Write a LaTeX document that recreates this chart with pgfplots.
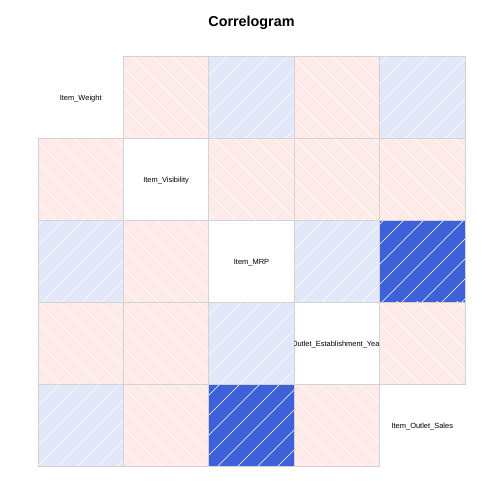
\documentclass[border=0pt]{standalone}
\usepackage{pgfplots}
\pgfplotsset{compat=1.18}
\usepackage{fontspec}
\setmainfont{Liberation Sans}
\usetikzlibrary{patterns.meta}
% colours of corrgram's palette (14 steps, red-salmon-white-royalblue-navy)
\definecolor{negs}{RGB}{254,235,233}   % -0.143 < r <= 0
\definecolor{poss}{RGB}{226,232,250}   % 0 < r <= 0.143
\definecolor{posb}{RGB}{60,97,217}     % 0.429 < r <= 0.571
\definecolor{lgray}{RGB}{211,211,211}
\tikzset{
  negcell/.style={preaction={fill=#1}, pattern={Lines[angle=-45,distance=14.14bp,line width=0.6bp]}, pattern color=white, draw=lgray, line width=0.8bp},
  poscell/.style={preaction={fill=#1}, pattern={Lines[angle=45,distance=14.14bp,line width=0.6bp]}, pattern color=white, draw=lgray, line width=0.8bp},
  lab/.style={font=\fontsize{7.5}{8}\selectfont, yshift=-1.5bp},
}
% correlations (Item_Weight, Item_Visibility, Item_MRP, Outlet_Establishment_Year, Item_Outlet_Sales)
% W-V -0.014, W-M 0.027, W-Y -0.011, W-S 0.014, V-M -0.001, V-Y -0.075, V-S -0.129, M-Y 0.005, M-S 0.568, Y-S -0.049
\begin{document}
\begin{tikzpicture}
\useasboundingbox (-38bp,-38bp) rectangle (466bp,466bp);
\begin{axis}[
  at={(0,0)}, anchor=south west,
  scale only axis, width=427bp, height=410bp,
  xmin=0, xmax=5, ymin=0, ymax=5,
  hide axis, no markers, clip=false,
  title={Correlogram},
  title style={font=\fontsize{14.4}{16}\selectfont\bfseries, at={(0.5,1)}, anchor=center, yshift=27bp},
]
% row 1 (Item_Weight)
\addplot[negcell=negs] coordinates {(1,4) (2,4) (2,5) (1,5)} -- cycle; % -0.014
\addplot[poscell=poss] coordinates {(2,4) (3,4) (3,5) (2,5)} -- cycle; % 0.027
\addplot[negcell=negs] coordinates {(3,4) (4,4) (4,5) (3,5)} -- cycle; % -0.011
\addplot[poscell=poss] coordinates {(4,4) (5,4) (5,5) (4,5)} -- cycle; % 0.014
% row 2 (Item_Visibility)
\addplot[negcell=negs] coordinates {(0,3) (1,3) (1,4) (0,4)} -- cycle; % -0.014
\addplot[negcell=negs] coordinates {(2,3) (3,3) (3,4) (2,4)} -- cycle; % -0.001
\addplot[negcell=negs] coordinates {(3,3) (4,3) (4,4) (3,4)} -- cycle; % -0.075
\addplot[negcell=negs] coordinates {(4,3) (5,3) (5,4) (4,4)} -- cycle; % -0.129
% row 3 (Item_MRP)
\addplot[poscell=poss] coordinates {(0,2) (1,2) (1,3) (0,3)} -- cycle; % 0.027
\addplot[negcell=negs] coordinates {(1,2) (2,2) (2,3) (1,3)} -- cycle; % -0.001
\addplot[poscell=poss] coordinates {(3,2) (4,2) (4,3) (3,3)} -- cycle; % 0.005
\addplot[poscell=posb] coordinates {(4,2) (5,2) (5,3) (4,3)} -- cycle; % 0.568
% row 4 (Outlet_Establishment_Year)
\addplot[negcell=negs] coordinates {(0,1) (1,1) (1,2) (0,2)} -- cycle; % -0.011
\addplot[negcell=negs] coordinates {(1,1) (2,1) (2,2) (1,2)} -- cycle; % -0.075
\addplot[poscell=poss] coordinates {(2,1) (3,1) (3,2) (2,2)} -- cycle; % 0.005
\addplot[negcell=negs] coordinates {(4,1) (5,1) (5,2) (4,2)} -- cycle; % -0.049
% row 5 (Item_Outlet_Sales)
\addplot[poscell=poss] coordinates {(0,0) (1,0) (1,1) (0,1)} -- cycle; % 0.014
\addplot[negcell=negs] coordinates {(1,0) (2,0) (2,1) (1,1)} -- cycle; % -0.129
\addplot[poscell=posb] coordinates {(2,0) (3,0) (3,1) (2,1)} -- cycle; % 0.568
\addplot[negcell=negs] coordinates {(3,0) (4,0) (4,1) (3,1)} -- cycle; % -0.049
% diagonal labels
\node[lab] at (axis cs:0.5,4.5) {Item\_Weight};
\node[lab] at (axis cs:1.5,3.5) {Item\_Visibility};
\node[lab] at (axis cs:2.5,2.5) {Item\_MRP};
\begin{scope}
\clip (axis cs:3,1) rectangle (axis cs:4,2);
\node[lab] at (axis cs:3.5,1.5) {Outlet\_Establishment\_Year};
\end{scope}
\node[lab] at (axis cs:4.5,0.5) {Item\_Outlet\_Sales};
\end{axis}
\end{tikzpicture}
\end{document}
